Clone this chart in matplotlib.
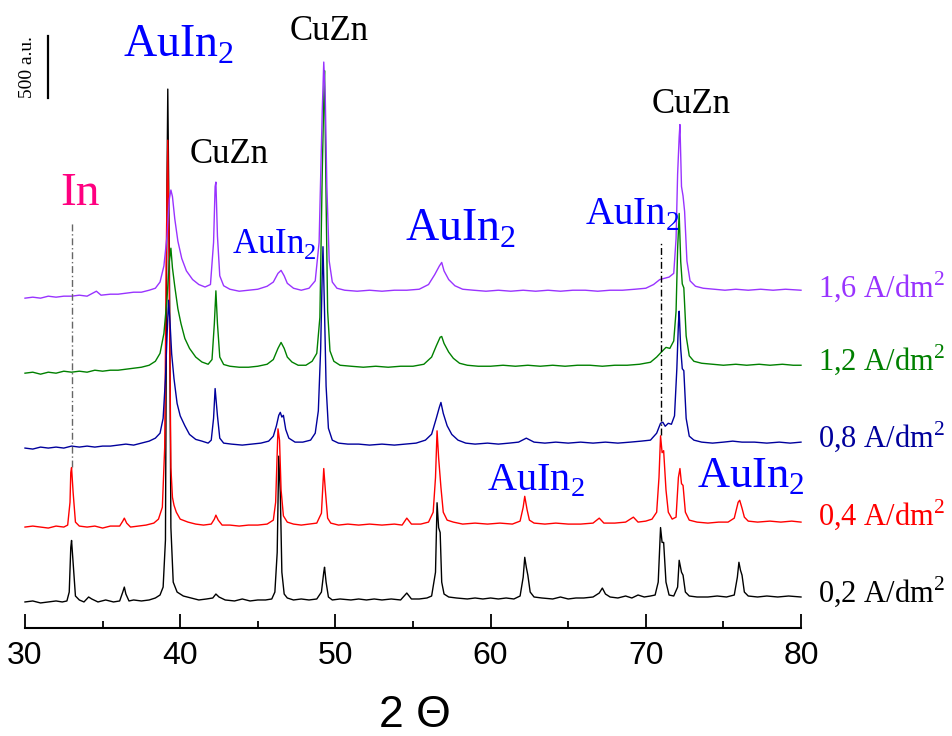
import numpy as np
import matplotlib
matplotlib.use("Agg")
import matplotlib.pyplot as plt
from matplotlib import font_manager
from matplotlib.ticker import MultipleLocator

# ---------------------------------------------------------------
# XRD patterns of the deposits, (2-theta [deg], intensity [a.u.])
# intensity is given above each pattern's own baseline
# ---------------------------------------------------------------
pattern_02 = [
    (30.0, 0), (30.5, 8), (31.0, -8), (31.5, 0), (32.0, 8), (32.4, 0), (32.7, 8),
    (32.85, 80), (32.95, 440), (33.0, 496), (33.1, 320), (33.25, 48), (33.5, 16),
    (33.8, 0), (34.1, 40), (34.3, 24), (34.7, 0), (35.2, 16), (35.7, 0), (36.1, 8),
    (36.3, 80), (36.4, 120), (36.5, 64), (36.7, 8), (37.0, 16), (37.5, 8), (38.0, 16),
    (38.4, 32), (38.7, 56), (38.9, 120), (39.05, 500), (39.15, 3400), (39.2, 4136),
    (39.3, 2800), (39.4, 600), (39.55, 160), (39.8, 80), (40.2, 48), (40.7, 32),
    (41.2, 16), (41.7, 24), (42.1, 32), (42.3, 64), (42.5, 40), (42.9, 16), (43.5, 8),
    (44.0, 24), (44.5, 8), (45.0, 16), (45.5, 16), (45.9, 24), (46.1, 80), (46.25, 400),
    (46.35, 1176), (46.45, 880), (46.55, 240), (46.7, 64), (46.9, 32), (47.3, 16),
    (47.8, 24), (48.3, 16), (48.8, 24), (49.1, 80), (49.25, 240), (49.3, 280),
    (49.4, 160), (49.55, 40), (49.8, 16), (50.3, 24), (51.0, 16), (51.5, 24), (52.0, 16),
    (52.5, 24), (53.0, 16), (53.6, 24), (54.2, 16), (54.6, 72), (54.9, 24), (55.4, 24),
    (55.9, 32), (56.2, 48), (56.45, 240), (56.55, 800), (56.65, 600), (56.75, 560),
    (56.85, 160), (57.0, 64), (57.3, 40), (57.8, 32), (58.5, 24), (59.0, 32), (59.5, 24),
    (60.0, 32), (60.5, 24), (61.0, 32), (61.5, 24), (61.9, 48), (62.1, 200), (62.2, 360),
    (62.3, 280), (62.4, 216), (62.55, 80), (62.8, 40), (63.3, 32), (64.0, 24), (64.5, 40),
    (65.0, 24), (65.5, 32), (66.0, 32), (66.6, 40), (67.0, 72), (67.2, 112), (67.4, 64),
    (67.7, 40), (68.2, 32), (68.7, 48), (69.1, 32), (69.5, 56), (69.9, 40), (70.3, 48),
    (70.6, 56), (70.8, 160), (70.95, 600), (71.05, 480), (71.15, 480), (71.3, 160),
    (71.5, 56), (71.8, 48), (72.05, 120), (72.15, 336), (72.3, 240), (72.4, 216),
    (72.55, 80), (72.8, 48), (73.3, 40), (74.0, 40), (74.6, 48), (75.2, 40), (75.7, 56),
    (75.9, 200), (76.0, 320), (76.1, 256), (76.2, 216), (76.35, 80), (76.6, 48),
    (77.2, 40), (77.8, 48), (78.5, 40), (79.2, 48), (80.0, 40),
]

pattern_04 = [
    (30.0, 0), (30.5, 8), (31.0, 0), (31.5, -8), (32.0, 8), (32.5, 0), (32.75, 16),
    (32.9, 200), (32.95, 440), (33.0, 480), (33.1, 280), (33.25, 40), (33.5, 8),
    (34.0, 0), (34.5, 8), (35.0, -8), (35.5, 8), (36.1, 8), (36.3, 48), (36.4, 72),
    (36.55, 32), (36.8, 0), (37.3, 8), (37.8, 16), (38.3, 32), (38.6, 64), (38.85, 160),
    (39.0, 640), (39.1, 2200), (39.2, 3120), (39.3, 1900), (39.4, 480), (39.5, 240),
    (39.6, 176), (39.75, 120), (40.0, 64), (40.5, 40), (41.0, 24), (41.5, 16), (42.0, 24),
    (42.2, 64), (42.3, 96), (42.45, 56), (42.7, 16), (43.2, 16), (43.8, 8), (44.4, 16),
    (45.0, 16), (45.6, 24), (46.0, 56), (46.15, 200), (46.3, 792), (46.4, 700),
    (46.5, 300), (46.65, 90), (46.9, 40), (47.3, 24), (47.8, 16), (48.3, 24), (48.8, 32),
    (49.1, 112), (49.25, 472), (49.35, 300), (49.5, 72), (49.7, 32), (50.2, 16),
    (50.8, 24), (51.5, 16), (52.2, 24), (53.0, 16), (53.8, 24), (54.3, 16), (54.6, 72),
    (54.9, 24), (55.5, 24), (56.0, 40), (56.3, 120), (56.45, 400), (56.55, 776),
    (56.65, 560), (56.8, 320), (56.95, 120), (57.2, 56), (57.6, 40), (58.2, 24),
    (59.0, 32), (59.8, 24), (60.6, 32), (61.4, 24), (61.9, 48), (62.1, 160), (62.2, 248),
    (62.35, 140), (62.5, 56), (62.8, 32), (63.5, 24), (64.2, 32), (65.0, 24), (65.8, 24),
    (66.6, 32), (67.0, 72), (67.3, 32), (68.0, 32), (68.7, 40), (69.2, 80), (69.5, 40),
    (70.0, 48), (70.4, 64), (70.7, 120), (70.85, 400), (70.95, 736), (71.05, 600),
    (71.15, 616), (71.3, 300), (71.45, 120), (71.7, 64), (71.95, 80), (72.1, 400),
    (72.2, 472), (72.3, 350), (72.4, 336), (72.55, 120), (72.8, 56), (73.3, 40),
    (74.0, 32), (74.7, 40), (75.3, 40), (75.7, 72), (75.95, 200), (76.05, 216),
    (76.2, 152), (76.35, 80), (76.6, 48), (77.2, 40), (78.0, 48), (78.7, 40), (79.4, 48),
    (80.0, 40),
]

pattern_08 = [
    (30.0, 0), (30.5, -8), (31.0, 8), (31.5, 0), (32.0, 8), (32.5, 0), (33.0, 16),
    (33.5, 8), (34.0, 16), (34.5, 8), (35.0, 16), (35.5, 16), (36.0, 24), (36.5, 32),
    (37.0, 24), (37.5, 40), (38.0, 56), (38.4, 80), (38.7, 120), (38.9, 240),
    (39.05, 560), (39.15, 900), (39.25, 1192), (39.35, 1000), (39.45, 760), (39.6, 560),
    (39.8, 360), (40.0, 260), (40.3, 180), (40.6, 110), (41.0, 70), (41.4, 56),
    (41.8, 40), (42.0, 64), (42.15, 240), (42.25, 480), (42.4, 260), (42.55, 80),
    (42.8, 40), (43.3, 32), (44.0, 24), (44.6, 32), (45.2, 40), (45.7, 56), (46.0, 96),
    (46.2, 180), (46.35, 264), (46.45, 288), (46.55, 250), (46.65, 264), (46.8, 150),
    (47.0, 80), (47.4, 48), (47.9, 48), (48.4, 64), (48.7, 120), (48.9, 300),
    (49.05, 800), (49.15, 1400), (49.2, 1624), (49.3, 1100), (49.4, 500), (49.55, 160),
    (49.8, 64), (50.2, 40), (50.8, 32), (51.5, 32), (52.2, 24), (53.0, 32), (53.8, 24),
    (54.5, 32), (55.2, 40), (55.8, 64), (56.2, 112), (56.5, 240), (56.7, 330),
    (56.8, 368), (56.95, 280), (57.2, 180), (57.5, 110), (57.9, 64), (58.4, 40),
    (59.0, 32), (59.8, 40), (60.5, 32), (61.2, 40), (61.8, 48), (62.3, 80), (62.8, 48),
    (63.5, 40), (64.2, 48), (65.0, 40), (65.8, 48), (66.6, 40), (67.4, 48), (68.2, 40),
    (69.0, 48), (69.7, 56), (70.3, 64), (70.7, 120), (70.95, 200), (71.1, 208),
    (71.25, 176), (71.45, 200), (71.65, 192), (71.85, 260), (72.0, 640), (72.1, 1000),
    (72.15, 1104), (72.25, 800), (72.35, 640), (72.45, 624), (72.6, 240), (72.8, 96),
    (73.1, 64), (73.6, 48), (74.3, 40), (75.0, 48), (75.6, 56), (76.2, 48), (77.0, 48),
    (77.8, 40), (78.6, 48), (79.3, 40), (80.0, 48),
]

pattern_12 = [
    (30.0, 0), (30.5, 8), (31.0, -8), (31.5, 8), (32.0, 0), (32.5, 16), (33.0, 8),
    (33.5, 16), (34.0, 8), (34.5, 24), (35.0, 16), (35.5, 24), (36.0, 24), (36.5, 32),
    (37.0, 40), (37.5, 48), (38.0, 64), (38.4, 96), (38.7, 160), (38.95, 320),
    (39.15, 600), (39.3, 900), (39.4, 1008), (39.5, 850), (39.65, 700), (39.85, 520),
    (40.05, 400), (40.3, 280), (40.6, 200), (41.0, 130), (41.4, 90), (41.8, 72),
    (42.05, 110), (42.2, 400), (42.3, 664), (42.4, 400), (42.55, 130), (42.8, 70),
    (43.2, 56), (43.8, 48), (44.4, 48), (45.0, 56), (45.6, 72), (46.0, 110), (46.3, 200),
    (46.5, 248), (46.7, 200), (46.9, 130), (47.2, 90), (47.6, 64), (48.1, 64),
    (48.5, 96), (48.8, 160), (49.0, 450), (49.15, 1600), (49.25, 2200), (49.3, 2440),
    (49.4, 1400), (49.5, 500), (49.65, 180), (49.9, 96), (50.3, 64), (51.0, 56),
    (51.8, 48), (52.6, 56), (53.4, 48), (54.2, 56), (55.0, 56), (55.7, 72), (56.2, 130),
    (56.5, 220), (56.75, 290), (56.85, 296), (57.0, 240), (57.3, 170), (57.6, 120),
    (58.0, 80), (58.5, 64), (59.2, 56), (60.0, 56), (60.8, 64), (61.6, 56), (62.4, 64),
    (63.2, 56), (64.0, 64), (64.8, 56), (65.6, 64), (66.4, 64), (67.2, 56), (68.0, 64),
    (68.8, 64), (69.6, 72), (70.3, 88), (70.7, 130), (71.0, 170), (71.3, 208),
    (71.55, 200), (71.8, 260), (71.95, 500), (72.05, 1000), (72.15, 1288), (72.25, 900),
    (72.35, 720), (72.45, 688), (72.6, 300), (72.8, 140), (73.1, 96), (73.6, 80),
    (74.3, 72), (75.0, 64), (75.8, 72), (76.5, 64), (77.3, 72), (78.0, 64), (78.8, 72),
    (79.5, 64), (80.0, 64),
]

pattern_16 = [
    (30.0, 0), (30.5, 8), (31.0, 0), (31.5, 16), (32.0, 8), (32.5, 16), (33.0, 16),
    (33.5, 24), (34.0, 16), (34.6, 56), (34.9, 24), (35.5, 32), (36.0, 32), (36.5, 40),
    (37.0, 48), (37.5, 48), (38.0, 64), (38.4, 80), (38.7, 130), (38.95, 260),
    (39.15, 500), (39.3, 800), (39.4, 872), (39.5, 820), (39.65, 640), (39.85, 460),
    (40.1, 320), (40.4, 220), (40.8, 150), (41.2, 110), (41.6, 90), (41.95, 110),
    (42.15, 450), (42.25, 900), (42.3, 936), (42.4, 500), (42.55, 180), (42.8, 100),
    (43.2, 72), (43.8, 56), (44.4, 64), (45.0, 72), (45.6, 96), (46.0, 130), (46.3, 200),
    (46.5, 224), (46.7, 180), (46.9, 120), (47.3, 80), (47.8, 64), (48.3, 80),
    (48.7, 140), (48.95, 450), (49.15, 1500), (49.25, 1904), (49.35, 1600), (49.45, 900),
    (49.6, 300), (49.8, 130), (50.1, 80), (50.6, 64), (51.4, 56), (52.2, 64), (53.0, 56),
    (53.8, 64), (54.6, 64), (55.4, 72), (56.0, 110), (56.4, 190), (56.7, 260),
    (56.85, 288), (57.0, 220), (57.3, 150), (57.7, 100), (58.2, 72), (58.9, 64),
    (59.7, 56), (60.5, 64), (61.3, 56), (62.1, 64), (62.9, 56), (63.7, 64), (64.5, 56),
    (65.3, 64), (66.1, 64), (66.9, 56), (67.7, 64), (68.5, 64), (69.3, 72), (70.0, 80),
    (70.5, 110), (70.9, 150), (71.2, 160), (71.5, 170), (71.8, 200), (71.95, 480),
    (72.05, 1000), (72.15, 1300), (72.2, 1400), (72.3, 900), (72.4, 824), (72.5, 700),
    (72.65, 300), (72.85, 140), (73.2, 96), (73.7, 80), (74.4, 72), (75.1, 64),
    (75.8, 72), (76.6, 64), (77.4, 72), (78.2, 64), (79.0, 72), (80.0, 64),
]

patterns = [pattern_02, pattern_04, pattern_08, pattern_12, pattern_16]
densities = ["0,2", "0,4", "0,8", "1,2", "1,6"]
offsets = [210, 814, 1451, 2055, 2660]          # vertical stacking, a.u.
colors = ["black", "#ff0000", "#00009c", "#008000", "#9933ff"]

# reflection markers (dash-dot guides)
ref_2theta = [33.0, 71.0]
ref_bottom = [1295, 1556]
ref_top = [3265, 3111]
ref_colors = ["#666666", "black"]

scale_bar = 500        # a.u.

# phase labels: text, left/baseline position in pixels, size, colour
W, H = 953, 736
phase_labels = [
    ("In", 60, 205, 34, "#ff0080"),
    ("AuIn$_\\mathregular{2}$", 123, 57, 33, "#0000ff"),
    ("CuZn", 190, 163, 25, "black"),
    ("CuZn", 290, 40, 25, "black"),
    ("AuIn$_\\mathregular{2}$", 232, 253, 25, "#0000ff"),
    ("AuIn$_\\mathregular{2}$", 405, 241, 33, "#0000ff"),
    ("AuIn$_\\mathregular{2}$", 585, 225, 28, "#0000ff"),
    ("CuZn", 652, 113, 25, "black"),
    ("AuIn$_\\mathregular{2}$", 487, 490, 29, "#0000ff"),
    ("AuIn$_\\mathregular{2}$", 697, 488, 32, "#0000ff"),
]
density_baselines = [602, 525, 447, 370, 297]

plt.rcParams["font.family"] = ["Liberation Serif", "DejaVu Serif"]
plt.rcParams["mathtext.fontset"] = "custom"
plt.rcParams["mathtext.rm"] = "Liberation Serif"

try:
    font_manager.findfont("Liberation Sans Narrow", fallback_to_default=False)
    tick_font, tick_size = "Liberation Sans Narrow", 27
except ValueError:
    tick_font, tick_size = "Liberation Sans", 23

fig = plt.figure(figsize=(W / 100, H / 100), dpi=100)
ax = fig.add_axes([25 / W, 108 / H, 776 / W, 628 / H])


def fig_xy(px, py):
    return px / W, 1 - py / H


# stacked patterns
for pts, off, col in zip(patterns, offsets, colors):
    arr = np.array(pts, dtype=float)
    ax.plot(arr[:, 0], arr[:, 1] + off, color=col, lw=1.0, clip_on=False)

for x, y0, y1, col in zip(ref_2theta, ref_bottom, ref_top, ref_colors):
    ax.plot([x, x], [y0, y1], color=col, lw=1.0, ls="-.", dashes=(5, 2, 1, 2))

# intensity scale bar
bar_y0 = 4272
ax.plot([31.5, 31.5], [bar_y0, bar_y0 + scale_bar], color="black", lw=1.6)
fig.text(*fig_xy(28, 67), "%d a.u." % scale_bar, rotation=90, fontsize=14,
         ha="center", va="center")

for txt, px, py, size, col in phase_labels:
    fig.text(*fig_xy(px, py), txt, fontsize=size, color=col,
             ha="left", va="baseline")

for dens, py, col in zip(densities, density_baselines, colors):
    fig.text(*fig_xy(818, py), dens + " A/dm$^\\mathregular{2}$", fontsize=22,
             color=col, ha="left", va="baseline")

ax.set_xlim(30, 80)
ax.set_ylim(0, 628 * scale_bar / 62)
ax.set_yticks([])
for side in ["left", "right", "top"]:
    ax.spines[side].set_visible(False)
ax.spines["bottom"].set_linewidth(1.5)
ax.set_facecolor("none")

ax.xaxis.set_major_locator(MultipleLocator(10))
ax.xaxis.set_minor_locator(MultipleLocator(5))
ax.tick_params(axis="x", which="major", direction="in", length=10, width=1.3,
               pad=9, labelsize=tick_size)
ax.tick_params(axis="x", which="minor", direction="in", length=5, width=1.3)
for lab in ax.get_xticklabels():
    lab.set_fontfamily(tick_font)

fig.text(*fig_xy(415, 727), "2 \u0398", fontsize=32, family="Liberation Sans",
         ha="center", va="baseline")

fig.savefig("out.png", dpi=100)
